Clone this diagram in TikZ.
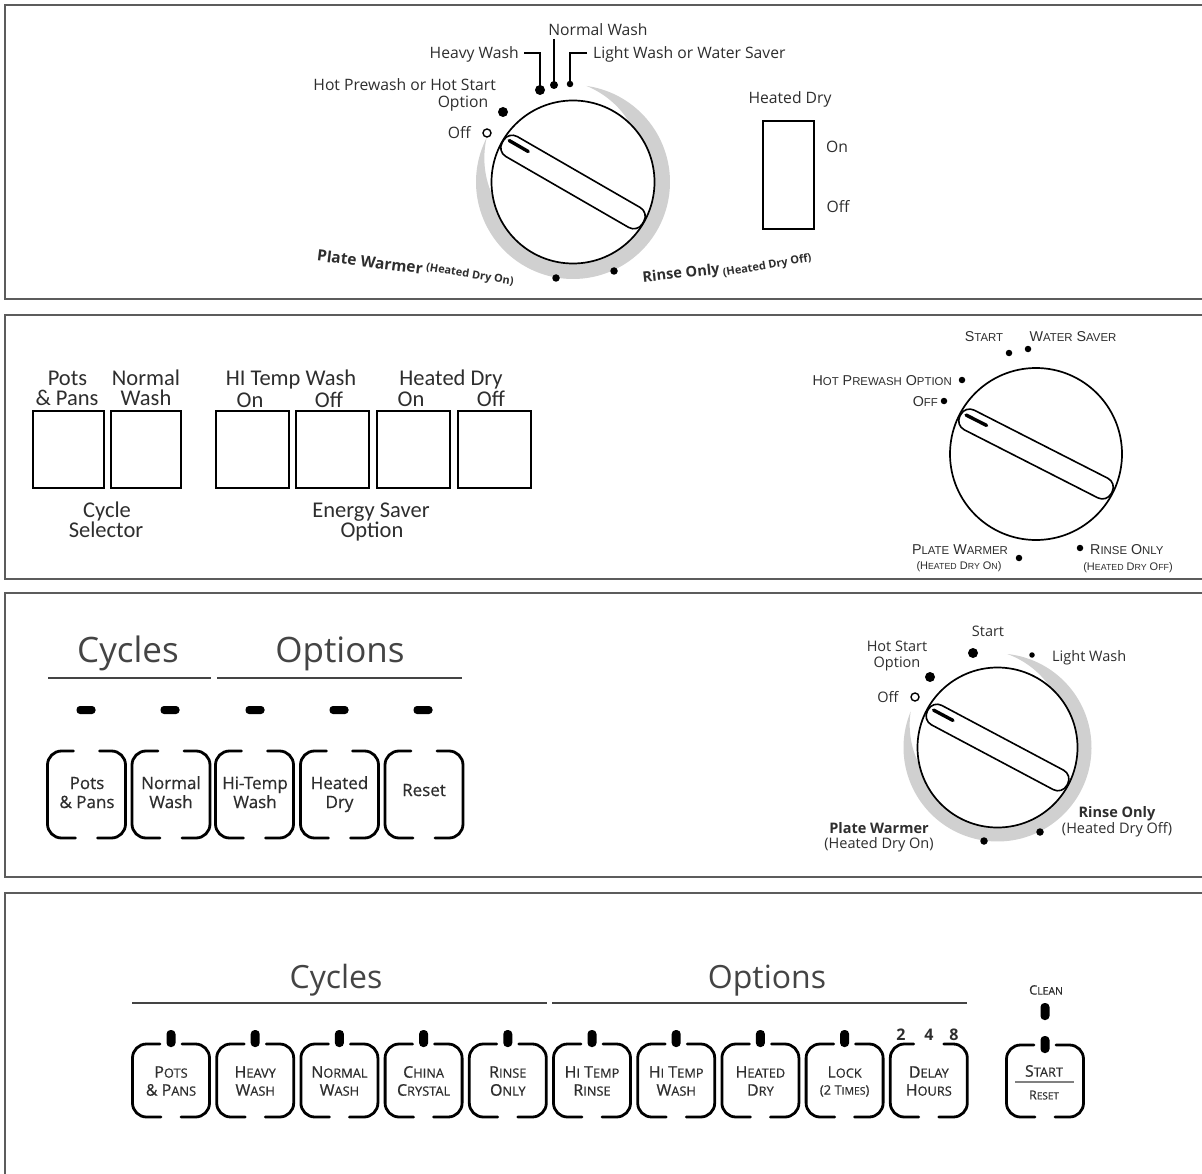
\documentclass[tikz,border=0pt]{standalone}
\usepackage{fontspec}
\setmainfont{Open Sans}
\newfontfamily\carl{Carlito}
\newfontfamily\lsans{Liberation Sans}
\newfontface\osemi[FakeBold=0.6]{Open Sans}
\usetikzlibrary{calc}
\definecolor{ink}{HTML}{2E2E2E}
\definecolor{headc}{HTML}{444444}
\definecolor{framec}{HTML}{5C5C5C}
\definecolor{arcgray}{HTML}{D0D0D0}
\newcommand\fz[1]{\fontsize{#1}{#1}\selectfont}
\newcommand\scw[3][12.8]{#2{\fz{#1}#3}}
% #1 cx, #2 cy, #3 outer radius, #4 max thickness, #5 start angle, #6 end angle
\newcommand\grayarc[6]{%
  \fill[arcgray] plot[domain=#5:#6, samples=140]
    ({#1+#3*cos(\x)},{#2-#3*sin(\x)})
  -- plot[domain=#6:#5, samples=140]
    ({#1+(#3-#4*min(1,2.5*sin((#5-(\x))/(#5-(#6))*180)))*cos(\x)},{#2-(#3-#4*min(1,2.5*sin((#5-(\x))/(#5-(#6))*180)))*sin(\x)})
  -- cycle;}
\newcommand\brkt[7]{%
  \draw[btnline, rounded corners=#7] ({#1-#5},#2) -- ({#1-#4},#2) -- ({#1-#4},#3) -- ({#1-#6},#3);
  \draw[btnline, rounded corners=#7] ({#1+#5},#2) -- ({#1+#4},#2) -- ({#1+#4},#3) -- ({#1+#6},#3);}
\begin{document}
\begin{tikzpicture}[x=1pt,y=-1pt,
  lab/.style={inner sep=0pt, text=ink, font=\fz{#1}, text height={0.71*#1pt}, text depth=0pt},
  labb/.style={lab=#1, font=\bfseries\fz{#1}},
  labs/.style={lab=#1, font=\osemi\fz{#1}},
  labc/.style={lab=#1, font=\carl\fz{#1}},
  labl/.style={lab=#1, font=\lsans\fz{#1}},
  panel/.style={draw=framec, line width=2.2pt},
  dialc/.style={circle, draw=black, line width=1.7pt, fill=white, inner sep=0pt},
  knob/.style={draw=black, line width=1.6pt, rounded corners=10pt},
  indic/.style={line width=3.4pt, line cap=round},
  dotn/.style={circle, fill=black, inner sep=0pt},
  odot/.style={circle, draw=black, line width=1.4pt, inner sep=0pt, minimum size=8pt},
  leader/.style={line width=1.8pt},
  sqbtn/.style={draw=black, line width=1.5pt, inner sep=0pt},
  btnline/.style={line width=2.8pt, line cap=round},
  ledh/.style={fill=black, rounded corners=3.5pt, minimum width=19pt, minimum height=8pt, inner sep=0pt},
  ledv/.style={fill=black, rounded corners=4pt, minimum width=9pt, minimum height=17pt, inner sep=0pt},
  rulel/.style={draw=headc, line width=2pt}]
\clip (0,0) rectangle (1202,1174);
\fill[white] (0,0) rectangle (1202,1174);

% ---------- panel frames ----------
\draw[panel] (5,5) rectangle (1215,299);
\draw[panel] (5,315) rectangle (1215,579);
\draw[panel] (5,593) rectangle (1215,877);
\draw[panel] (5,893) rectangle (1215,1190);

% ---------- panel 1 ----------
\grayarc{573}{182}{97}{16}{82}{-207}
\node[dialc, minimum size=163pt] (k1) at (573,182) {};
\draw[knob, rotate around={-30:(k1.center)}] (492,170.5) rectangle (654,193.5);
\draw[indic, rotate around={-30:(k1.center)}] (497,178) -- (519,178);

\node[lab=15.7] (tNW) at (598,30) {Normal Wash};
\node[lab=15.7, anchor=east] (tHW) at (519,53) {Heavy Wash};
\node[lab=15.7, anchor=west] (tLW) at (593,53) {Light Wash or Water Saver};
\node[lab=15.7, anchor=east] (tHP) at (496,85) {Hot Prewash or Hot Start};
\node[lab=15.7] (tOpt) at (463,102) {Option};
\node[lab=15.7, anchor=east] (tOff) at (471,133) {Off};

\node[dotn, minimum size=10pt] (dHeavy) at (540,90) {};
\node[dotn, minimum size=8pt] (dNormal) at (554,85) {};
\node[dotn, minimum size=6.5pt] (dLight) at (570,84) {};
\node[dotn, minimum size=10pt] (dHot) at (503,112) {};
\node[odot] (dOff) at (487,133) {};
\node[dotn, minimum size=7.5pt] (dPW) at (556,278) {};
\node[dotn, minimum size=7.5pt] (dRO) at (614,271) {};

\draw[leader] ([xshift=5pt]tHW.east) -| (dHeavy.center);
\draw[leader] ($(dNormal.center |- tNW.south)+(0,3.5)$) -- (dNormal.center);
\draw[leader] ([xshift=-6pt]tLW.west) -| (dLight.center);

\node[labb=15.5, rotate=-7] (tPW) at (370,262) {Plate Warmer};
\node[labb=11, rotate=-9] (tPWs) at (470,274) {(Heated Dry On)};
\node[labb=14.6, rotate=6] (tRO) at (681,273) {Rinse Only};
\node[labb=11, rotate=10] (tROs) at (767,265) {(Heated Dry Off)};

\node[lab=15.7] (tHD) at (790,98) {Heated Dry};
\node[sqbtn, line width=1.6pt, minimum width=51pt, minimum height=108pt] (sw) at (788.5,175) {};
\node[lab=15.7] (tOn) at (837,147) {On};
\node[lab=15.7] (tOffS) at (838,207) {Off};

% ---------- panel 2 ----------
\node[sqbtn, minimum width=71pt, minimum height=77pt] (q1) at (68.5,449.5) {};
\node[sqbtn, minimum width=70pt, minimum height=77pt] (q2) at (146,449.5) {};
\node[sqbtn, minimum width=73pt, minimum height=77pt] (q3) at (252.5,449.5) {};
\node[sqbtn, minimum width=73pt, minimum height=77pt] (q4) at (332.5,449.5) {};
\node[sqbtn, minimum width=73pt, minimum height=77pt] (q5) at (413.5,449.5) {};
\node[sqbtn, minimum width=73pt, minimum height=77pt] (q6) at (494.5,449.5) {};

\node[labc=22.5] (u1) at (67.5,378) {Pots};
\node[labc=22.5] (u2) at (67,398) {\& Pans};
\node[labc=22.5] (u3) at (146,378) {Normal};
\node[labc=22.5] (u4) at (146,398) {Wash};
\node[labc=22.5] (u5) at (291,378) {HI Temp Wash};
\node[labc=22.5] (u6) at (250,400) {On};
\node[labc=22.5] (u7) at (329,400) {Off};
\node[labc=22.5] (u8) at (451,378) {Heated Dry};
\node[labc=22.5] (u9) at (411,399) {On};
\node[labc=22.5] (u10) at (491,399) {Off};
\node[labc=22.5] (u11) at (107,510) {Cycle};
\node[labc=22.5] (u12) at (106,530) {Selector};
\node[labc=22.5] (u13) at (371,510) {Energy Saver};
\node[labc=22.5] (u14) at (372,530) {Option};

\node[dialc, minimum size=172pt] (k2) at (1036,454) {};
\draw[knob, rotate around={-27:(k2.center)}] (951,443) rectangle (1121,465);
\draw[indic, rotate around={-27:(k2.center)}] (956,451) -- (979,451);

\node[dotn, minimum size=6.5pt] (e1) at (1009,353) {};
\node[dotn, minimum size=6.5pt] (e2) at (1028,349) {};
\node[dotn, minimum size=6.5pt] (e3) at (962,380) {};
\node[dotn, minimum size=6.5pt] (e4) at (944,401) {};
\node[dotn, minimum size=6.5pt] (e5) at (1019,558) {};
\node[dotn, minimum size=6.5pt] (e6) at (1080,548) {};

\node[labl=14.3] (s2) at (984,336) {\scw[11.4]{S}{TART}};
\node[labl=14.3] (ws2) at (1073,336) {\scw[11.4]{W}{ATER} \scw[11.4]{S}{AVER}};
\node[labl=14.3, anchor=east] (hp2) at (952,380) {\scw[11.4]{H}{OT} \scw[11.4]{P}{REWASH} \scw[11.4]{O}{PTION}};
\node[labl=14.3, anchor=east] (of2) at (938,401) {\scw[11.4]{O}{FF}};
\node[labl=14.3] (pw2) at (960,549) {\scw[11.4]{P}{LATE} \scw[11.4]{W}{ARMER}};
\node[labl=11] (pws2) at (959,566) {(\scw[8.8]{H}{EATED} \scw[8.8]{D}{RY} \scw[8.8]{O}{N})};
\node[labl=14.3, anchor=west] (ro2) at (1090,549) {\scw[11.4]{R}{INSE} \scw[11.4]{O}{NLY}};
\node[labl=11] (ros2) at (1128,567) {(\scw[8.8]{H}{EATED} \scw[8.8]{D}{RY} \scw[8.8]{O}{FF})};

% ---------- panel 3 ----------
\node[lab=35, text=headc] (c3) at (128,650) {Cycles};
\node[lab=35, text=headc] (o3) at (340,650) {Options};
\draw[rulel] (48,678) -- (211,678);
\draw[rulel] (217,678) -- (462,678);

\foreach \cx [count=\i] in {86,170,255,339,423} {\node[ledh] (m\i) at (\cx,710) {};}
\foreach \cx in {86.5,171,254.5,339.5,424} {\brkt{\cx}{751}{838}{39}{13}{11}{14pt}}

\node[labs=17] (w1) at (87,783) {Pots};
\node[labs=17] (w2) at (87,802) {\& Pans};
\node[labs=17] (w3) at (171,783) {Normal};
\node[labs=17] (w4) at (171,802) {Wash};
\node[labs=17] (w5) at (255,783) {Hi-Temp};
\node[labs=17] (w6) at (255,802) {Wash};
\node[labs=17] (w7) at (339.5,783) {Heated};
\node[labs=17] (w8) at (339.5,802) {Dry};
\node[labs=17] (w9) at (424,790) {Reset};

\grayarc{997.5}{747.5}{94}{15}{84}{-202.5}
\node[dialc, minimum size=160pt] (k3) at (997.5,747.5) {};
\draw[knob, rotate around={-28:(k3.center)}] (918.5,736.5) rectangle (1076.5,758.5);
\draw[indic, rotate around={-28:(k3.center)}] (923.5,744.5) -- (945.5,744.5);

\node[dotn, minimum size=10pt] (f1) at (973,653) {};
\node[dotn, minimum size=5.5pt] (f2) at (1032,655) {};
\node[dotn, minimum size=10pt] (f3) at (930,677) {};
\node[odot] (f4) at (915,697) {};
\node[dotn, minimum size=7.5pt] (f5) at (984,841) {};
\node[dotn, minimum size=7.5pt] (f6) at (1040,832) {};

\node[lab=14.5] (g1) at (988,631) {Start};
\node[lab=14.5] (g2) at (897,646) {Hot Start};
\node[lab=14.5] (g3) at (897,662) {Option};
\node[lab=14.5, anchor=west] (g4) at (1052,656) {Light Wash};
\node[lab=14.5] (g5) at (888,697) {Off};
\node[labb=14.5] (g6) at (879,828) {Plate Warmer};
\node[lab=14.5] (g7) at (879,843) {(Heated Dry On)};
\node[labb=14.5] (g8) at (1117,812) {Rinse Only};
\node[lab=14.5] (g9) at (1117,828) {(Heated Dry Off)};

% ---------- panel 4 ----------
\node[lab=32, text=headc] (c4) at (336,977) {Cycles};
\node[lab=32, text=headc] (o4) at (767,977) {Options};
\draw[rulel] (132,1003) -- (547,1003);
\draw[rulel] (552,1003) -- (967,1003);

\foreach \cx in {171,255.2,339.4,423.6,507.8,592,676.2,760.4,844.6} {\brkt{\cx}{1044}{1117}{38.5}{11}{10}{14pt}}
\brkt{928.8}{1044}{1117}{38.5}{15}{10}{14pt}
\brkt{1045}{1045}{1117}{38.5}{11}{10}{14pt}
\foreach \cx [count=\i] in {171,255.2,339.4,423.6,507.8,592,676.2,760.4,844.6} {\node[ledv] (n\i) at (\cx,1038.5) {};}
\node[ledv] (nStart) at (1045,1044.5) {};
\node[ledv] (nClean) at (1045,1011.5) {};

\node[labs=16] (h1a) at (171,1072) {\scw{P}{OTS}};
\node[labs=16] (h1b) at (171,1090) {\& \scw{P}{ANS}};
\node[labs=16] (h2a) at (255.2,1072) {\scw{H}{EAVY}};
\node[labs=16] (h2b) at (255.2,1090) {\scw{W}{ASH}};
\node[labs=16] (h3a) at (339.4,1072) {\scw{N}{ORMAL}};
\node[labs=16] (h3b) at (339.4,1090) {\scw{W}{ASH}};
\node[labs=16] (h4a) at (423.6,1072) {\scw{C}{HINA}};
\node[labs=16] (h4b) at (423.6,1090) {\scw{C}{RYSTAL}};
\node[labs=16] (h5a) at (507.8,1072) {\scw{R}{INSE}};
\node[labs=16] (h5b) at (507.8,1090) {\scw{O}{NLY}};
\node[labs=16] (h6a) at (592,1072) {\scw{H}{I} \scw{T}{EMP}};
\node[labs=16] (h6b) at (592,1090) {\scw{R}{INSE}};
\node[labs=16] (h7a) at (676.2,1072) {\scw{H}{I} \scw{T}{EMP}};
\node[labs=16] (h7b) at (676.2,1090) {\scw{W}{ASH}};
\node[labs=16] (h8a) at (760.4,1072) {\scw{H}{EATED}};
\node[labs=16] (h8b) at (760.4,1090) {\scw{D}{RY}};
\node[labs=16] (h9a) at (844.6,1072) {\scw{L}{OCK}};
\node[labs=13] (h9b) at (844.6,1090) {(2 \scw[10.4]{T}{IMES})};
\node[labs=16] (h10a) at (928.8,1072) {\scw{D}{ELAY}};
\node[labs=16] (h10b) at (928.8,1090) {\scw{H}{OURS}};
\node[labb=16] (x2) at (901,1035) {2};
\node[labb=16] (x4) at (929,1035) {4};
\node[labb=16] (x8) at (954,1035) {8};
\node[labs=13] (cl) at (1046,990) {\scw[10.4]{C}{LEAN}};
\node[labs=16] (st) at (1044,1071) {\scw{S}{TART}};
\node[labs=12.5] (rs) at (1044,1095) {\scw[10]{R}{ESET}};
\coordinate (divL) at (1015,1082);
\coordinate (divR) at (1074,1082);
\draw[draw=gray, line width=2pt] (divL) -- (divR);
\end{tikzpicture}
\end{document}
